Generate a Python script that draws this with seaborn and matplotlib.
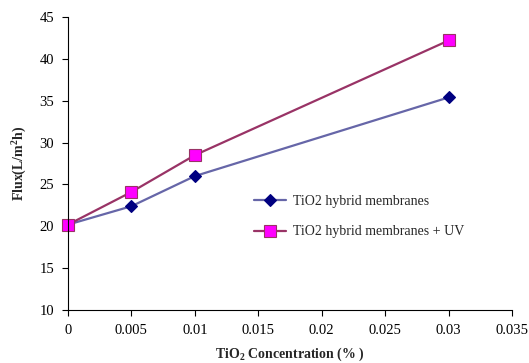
import matplotlib
matplotlib.use("Agg")
import matplotlib.pyplot as plt
import seaborn as sns
import pandas as pd

concentration = [0, 0.005, 0.01, 0.03]
flux_hybrid = [20.2, 22.4, 26.0, 35.4]
flux_hybrid_uv = [20.2, 24.1, 28.5, 42.2]
series_names = ["TiO2 hybrid membranes", "TiO2 hybrid membranes + UV"]
x_ticks = [0, 0.005, 0.01, 0.015, 0.02, 0.025, 0.03, 0.035]
y_ticks = [10, 15, 20, 25, 30, 35, 40, 45]

sns.set_theme(style="white")
plt.rcParams["font.family"] = ["Liberation Serif", "DejaVu Serif"]
plt.rcParams["mathtext.fontset"] = "custom"
plt.rcParams["mathtext.rm"] = "Liberation Serif"
plt.rcParams["mathtext.bf"] = "Liberation Serif:bold"

df = pd.DataFrame({
    "conc": concentration * 2,
    "flux": flux_hybrid + flux_hybrid_uv,
    "series": [series_names[0]] * 4 + [series_names[1]] * 4,
})

fig = plt.figure(figsize=(5.29, 3.63), dpi=100)
ax = fig.add_axes([0.1285, 0.146, 0.8395, 0.807])

styles = {
    series_names[0]: dict(color="#6666A8", marker="D", mfc="#000080", mec="#000080", ms=6),
    series_names[1]: dict(color="#993366", marker="s", mfc="#FF00FF", mec="#993366", ms=8),
}
for name in series_names:
    sub = df[df["series"] == name]
    st = styles[name]
    sns.lineplot(data=sub, x="conc", y="flux", ax=ax, color=st["color"], lw=1.6,
                 marker=st["marker"], markerfacecolor=st["mfc"], markeredgecolor=st["mec"],
                 markeredgewidth=0.8, markersize=st["ms"], label=name, clip_on=False)

ax.set_xlim(0, 0.035)
ax.set_ylim(10, 45)
ax.set_xticks(x_ticks)
ax.set_xticklabels([f"{v:g}" for v in x_ticks])
ax.set_yticks(y_ticks)
ax.tick_params(axis="both", direction="out", length=4, width=0.8, colors="black",
               labelsize=10.5, bottom=True, left=True, pad=6)
for s in ["top", "right"]:
    ax.spines[s].set_visible(False)
for s in ["left", "bottom"]:
    ax.spines[s].set_color("black")
    ax.spines[s].set_linewidth(0.8)

ax.set_xlabel(r"TiO$_\mathbf{2}$ Concentration (% )", fontsize=10, fontweight="bold", labelpad=6)
ax.set_ylabel(r"Flux(L/m$^\mathbf{2}$h)", fontsize=10, fontweight="bold", labelpad=8)

leg = ax.legend(loc="upper left", bbox_to_anchor=(0.39, 0.435), frameon=False, fontsize=10,
                handlelength=2.3, labelspacing=1.25, handletextpad=0.5)

fig.savefig("out.png", dpi=100, facecolor="white")
